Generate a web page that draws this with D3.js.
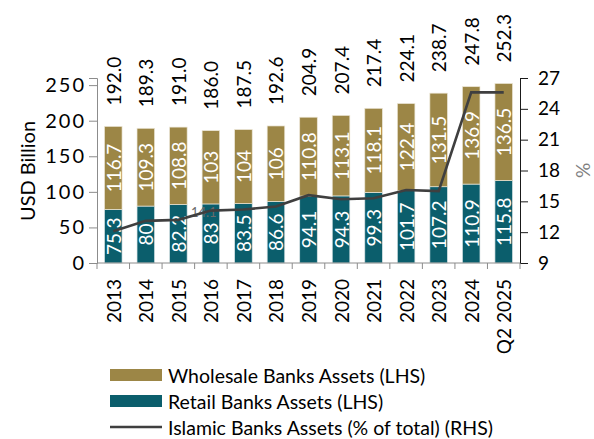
<!DOCTYPE html>
<html>
<head>
<meta charset="utf-8">
<script src="https://cdn.jsdelivr.net/npm/d3@7"></script>
<style>
  body { margin: 0; background: #fff; }
  svg text { font-family: Lato, "Noto Sans", sans-serif; }
</style>
</head>
<body>
<div id="chart"></div>
<script>
const years = ['2013', '2014', '2015', '2016', '2017', '2018', '2019', '2020', '2021', '2022', '2023', '2024', 'Q2 2025'];
const retail = [75.3, 80, 82.2, 83, 83.5, 86.6, 94.1, 94.3, 99.3, 101.7, 107.2, 110.9, 115.8];
const wholesale = [116.7, 109.3, 108.8, 103, 104, 106, 110.8, 113.1, 118.1, 122.4, 131.5, 136.9, 136.5];
const islamicShare = [12.1, 13.1, 13.2, 14.1, 14.2, 14.5, 15.6, 15.2, 15.3, 16.1, 16.0, 25.6, 25.6];
const leftTicks = [0, 50, 100, 150, 200, 250];
const rightTicks = [9, 12, 15, 18, 21, 24, 27];

const width = 594;
const height = 439;
const plotLeft = 97, plotRight = 520, plotTop = 78, plotBottom = 263;

const wholesaleColor = '#9c8646';
const retailColor = '#0b5e6c';
const lineColor = '#3f3f3f';

let svg = d3.select('#chart')
  .append('svg')
  .attr('width', width)
  .attr('height', height);

let x = d3.scaleBand().domain(years).range([plotLeft, plotRight]).paddingInner(0.46).paddingOuter(0.23);
let band = d3.scaleBand().domain(years).range([plotLeft, plotRight]);
let yL = d3.scaleLinear().domain([0, 260]).range([plotBottom, plotTop]);
let yR = d3.scaleLinear().domain([9, 27]).range([plotBottom, plotTop]);

let rows = years.map(function(y, i) {
  return {year: y, retail: retail[i], wholesale: wholesale[i], total: +(retail[i] + wholesale[i]).toFixed(1), pct: islamicShare[i]};
});

// bars
let bars = svg.append('g');
bars.selectAll('.retail')
  .data(rows)
  .enter()
  .append('rect')
  .attr('x', function(d) { return x(d.year); })
  .attr('y', function(d) { return yL(d.retail); })
  .attr('width', x.bandwidth())
  .attr('height', function(d) { return yL(0) - yL(d.retail); })
  .attr('fill', retailColor)
  .attr('stroke', '#d9e4e6')
  .attr('stroke-width', 0.7);

bars.selectAll('.wholesale')
  .data(rows)
  .enter()
  .append('rect')
  .attr('x', function(d) { return x(d.year); })
  .attr('y', function(d) { return yL(d.total); })
  .attr('width', x.bandwidth())
  .attr('height', function(d) { return yL(d.retail) - yL(d.total); })
  .attr('fill', wholesaleColor)
  .attr('stroke', '#ece6d6')
  .attr('stroke-width', 0.7);

function cx(d) { return x(d.year) + x.bandwidth() / 2; }

// segment labels
function segLabel(sel, val, mid) {
  sel.append('text')
    .attr('transform', function(d) { return 'translate(' + cx(d) + ',' + mid(d) + ') rotate(-90)'; })
    .attr('text-anchor', 'middle')
    .attr('dominant-baseline', 'central')
    .attr('fill', '#fff')
    .attr('font-size', 19)
    .text(val);
}
let lab = svg.append('g').selectAll('g').data(rows).enter().append('g');
segLabel(lab, function(d) { return String(d.retail); }, function(d) { return (yL(0) + yL(d.retail)) / 2; });
segLabel(lab, function(d) { return String(d.wholesale); }, function(d) { return (yL(d.retail) + yL(d.total)) / 2; });

// totals
lab.append('text')
  .attr('transform', function(d) { return 'translate(' + cx(d) + ',' + (yL(d.total) - 21) + ') rotate(-90)'; })
  .attr('text-anchor', 'start')
  .attr('dominant-baseline', 'central')
  .attr('fill', '#000')
  .attr('font-size', 19)
  .text(function(d) { return d.total.toFixed(1); });

// stray 14.1 label under the line
svg.append('text')
  .attr('x', cx(rows[3]) - 20)
  .attr('y', yR(rows[3].pct) + 1)
  .attr('dominant-baseline', 'central')
  .attr('fill', '#6a6a6a')
  .attr('font-size', 13)
  .text('14.1');

// line
let line = d3.line()
  .x(function(d) { return cx(d); })
  .y(function(d) { return yR(d.pct); });
svg.append('path')
  .datum(rows)
  .attr('d', line)
  .attr('fill', 'none')
  .attr('stroke', lineColor)
  .attr('stroke-width', 2.6);

// axes
let leftAxis = svg.append('g')
  .attr('transform', 'translate(' + plotLeft + ',0)')
  .call(d3.axisLeft(yL).tickValues(leftTicks).tickSize(8).tickPadding(3));
leftAxis.select('.domain').attr('stroke', '#8c8c8c');
leftAxis.selectAll('line').attr('stroke', '#8c8c8c');
leftAxis.selectAll('text').attr('font-size', 20).attr('fill', '#000')
  .style('font-family', 'Lato').style('letter-spacing', '2px');

let rightAxis = svg.append('g')
  .attr('transform', 'translate(' + plotRight + ',0)')
  .call(d3.axisRight(yR).tickValues(rightTicks).tickSize(8).tickPadding(10));
rightAxis.select('.domain').attr('stroke', '#1a1a1a');
rightAxis.selectAll('line').attr('stroke', '#1a1a1a');
rightAxis.selectAll('text').attr('font-size', 19).attr('fill', '#000').style('font-family', 'Lato');

let bottom = svg.append('g').attr('transform', 'translate(0,' + plotBottom + ')');
bottom.append('line')
  .attr('x1', plotLeft).attr('x2', plotRight)
  .attr('stroke', '#8c8c8c');
bottom.selectAll('.tick')
  .data(years.concat(['end']))
  .enter()
  .append('line')
  .attr('x1', function(d, i) { return i < years.length ? band(d) : plotRight; })
  .attr('x2', function(d, i) { return i < years.length ? band(d) : plotRight; })
  .attr('y1', 0).attr('y2', 6)
  .attr('stroke', '#8c8c8c');
bottom.selectAll('.xlab')
  .data(years)
  .enter()
  .append('text')
  .attr('transform', function(d) { return 'translate(' + (band(d) + band.bandwidth() / 2) + ',16) rotate(-90)'; })
  .attr('text-anchor', 'end')
  .attr('dominant-baseline', 'central')
  .attr('font-size', 19)
  .text(function(d) { return d; });

// axis titles
svg.append('text')
  .attr('transform', 'translate(27,171) rotate(-90)')
  .attr('text-anchor', 'middle')
  .attr('dominant-baseline', 'central')
  .attr('font-size', 20)
  .text('USD Billion');
svg.append('text')
  .attr('transform', 'translate(582,' + ((plotTop + plotBottom) / 2) + ') rotate(-90)')
  .attr('text-anchor', 'middle')
  .attr('dominant-baseline', 'central')
  .attr('font-size', 19)
  .attr('fill', '#7f7f7f')
  .text('%');

// legend
const legendItems = ['Wholesale Banks Assets (LHS)', 'Retail Banks Assets (LHS)', 'Islamic Banks Assets (% of total) (RHS)'];
let legend = svg.append('g').attr('transform', 'translate(110,375)');
let item = legend.selectAll('g')
  .data(legendItems)
  .enter()
  .append('g')
  .attr('transform', function(d, i) { return 'translate(0,' + (i * 26) + ')'; });
item.filter(function(d, i) { return i < 2; })
  .append('rect')
  .attr('x', 0).attr('y', -6)
  .attr('width', 52).attr('height', 12)
  .attr('fill', function(d, i) { return i === 0 ? wholesaleColor : retailColor; });
item.filter(function(d, i) { return i === 2; })
  .append('line')
  .attr('x1', 0).attr('x2', 52)
  .attr('stroke', lineColor)
  .attr('stroke-width', 2.6);
item.append('text')
  .attr('x', 58)
  .attr('dominant-baseline', 'central')
  .attr('font-size', 19.5)
  .text(function(d) { return d; });
</script>
</body>
</html>
